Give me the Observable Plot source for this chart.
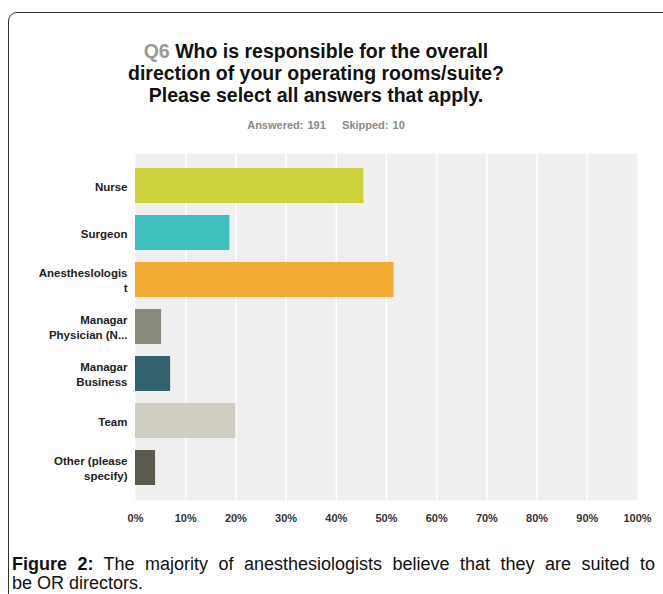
<!DOCTYPE html>
<html>
<head>
<meta charset="utf-8">
<script src="https://cdn.jsdelivr.net/npm/d3@7"></script>
<script src="https://cdn.jsdelivr.net/npm/@observablehq/plot@0.6"></script>
<style>
  html, body { margin: 0; padding: 0; background: #fff; overflow: hidden; }
  body { width: 663px; height: 594px; position: relative; font-family: "Liberation Sans", Arial, sans-serif; }
  #frame { position: absolute; left: 8px; top: 12px; width: 720px; height: 640px; border: 1.5px solid #333; border-radius: 9px; box-sizing: border-box; }
  #title { position: absolute; left: 0; width: 632px; top: 40px; text-align: center; font-weight: bold; font-size: 19.5px; line-height: 22px; color: #111; }
  #title .q { color: #999; }
  #sub { position: absolute; left: 0; width: 652px; top: 119px; text-align: center; font-weight: bold; font-size: 11px; color: #8a8a8a; word-spacing: 1px; }
  #chart { position: absolute; left: 0; top: 0; }
  #caption { position: absolute; left: 12px; width: 643px; top: 555px; font-size: 18px; line-height: 19px; color: #111; }
  #caption .l1 { text-align: justify; text-align-last: justify; }
</style>
</head>
<body>
<div id="frame"></div>
<div id="title"><span class="q">Q6</span> Who is responsible for the overall<br>direction of your operating rooms/suite?<br>Please select all answers that apply.</div>
<div id="sub">Answered: 191&nbsp;&nbsp;&nbsp; Skipped: 10</div>
<div id="chart"></div>
<div id="caption"><div class="l1"><b>Figure 2:</b> The majority of anesthesiologists believe that they are suited to</div><div>be OR directors.</div></div>
<script>
const categories = ["Nurse", "Surgeon", "Anesthesiologist", "Managar Physician", "Managar Business", "Team", "Other"];
const labels = ["Nurse", "Surgeon", "Anestheslologis\nt", "Managar\nPhysician (N...", "Managar\nBusiness", "Team", "Other (please\nspecify)"];
const values = [45.5, 18.8, 51.5, 5.2, 7.0, 20.0, 4.0];
const colors = ["#cdd13b", "#3fbfbe", "#f3ab33", "#898a7c", "#33636e", "#d0cec2", "#5b5a4c"];
const xTicks = [0, 10, 20, 30, 40, 50, 60, 70, 80, 90, 100];

const data = categories.map((c, i) => ({category: c, label: labels[i], value: values[i], color: colors[i]}));
const labelOf = new Map(data.map(d => [d.category, d.label]));

const chart = Plot.plot({
  width: 663,
  height: 545,
  marginTop: 153,
  marginBottom: 45,
  marginLeft: 135,
  marginRight: 26,
  style: {fontFamily: "Liberation Sans, Arial, sans-serif", background: "transparent"},
  x: {domain: [0, 100]},
  y: {domain: categories, padding: 0.25},
  marks: [
    Plot.frame({fill: "#f0eff0", stroke: null}),
    Plot.ruleX(xTicks.slice(1, -1), {stroke: "#ffffff", strokeWidth: 1.5}),
    Plot.ruleY([0], {frameAnchor: "bottom", stroke: "#dcdcdc"}),
    Plot.barX(data, {x: "value", y: "category", fill: "color"}),
    Plot.axisX({
      ticks: xTicks, tickSize: 0, tickPadding: 14,
      tickFormat: d => d + "%", fontWeight: "bold", fontSize: 11, fill: "#333", label: null
    }),
    Plot.axisY({
      tickSize: 0, tickPadding: 8, tickFormat: d => labelOf.get(d),
      fontWeight: "bold", fontSize: 11.5, fill: "#222", lineHeight: 1.25, label: null
    })
  ]
});
document.getElementById("chart").appendChild(chart);
</script>
</body>
</html>
